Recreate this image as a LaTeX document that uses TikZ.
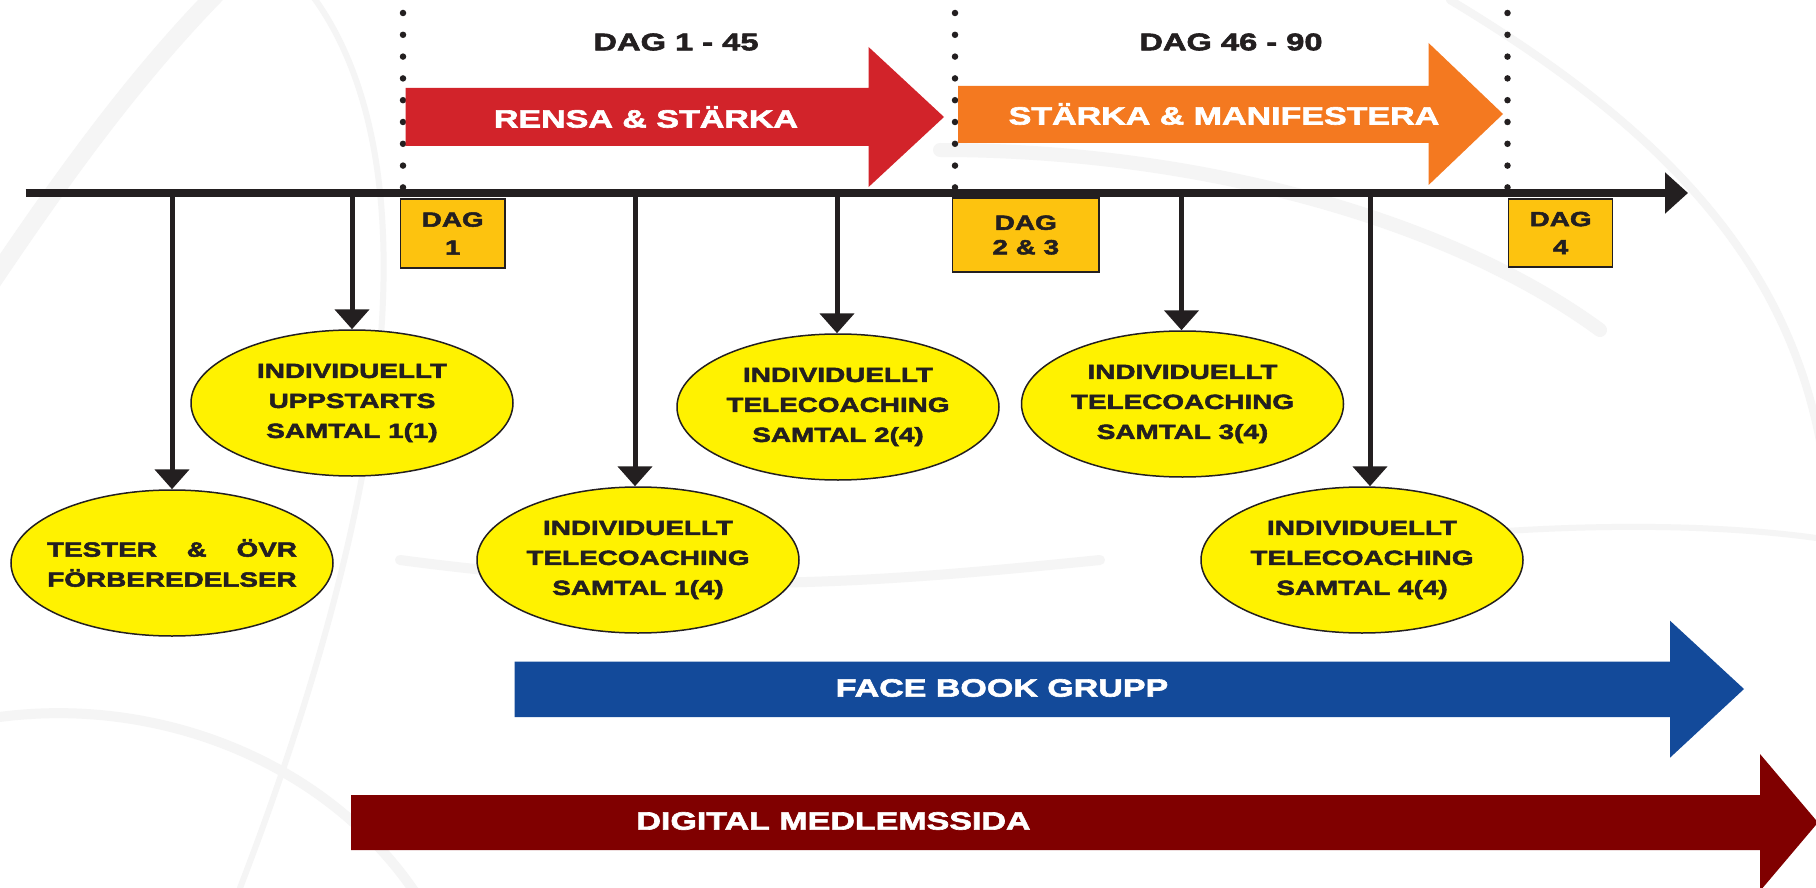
\documentclass[tikz,border=0pt]{standalone}
\usepackage{fontspec}
\newfontfamily\hv{Liberation Sans}[FakeStretch=1.36,FakeBold=2.5]
\usetikzlibrary{arrows.meta,shapes.geometric}
\definecolor{ink}{HTML}{231F20}
\definecolor{gold}{HTML}{FDC30F}
\definecolor{ellyellow}{HTML}{FFF200}
\definecolor{redarr}{HTML}{D2232A}
\definecolor{orangearr}{HTML}{F47920}
\definecolor{bluearr}{HTML}{134A9A}
\definecolor{darkred}{HTML}{800000}
\definecolor{swoosh}{HTML}{F5F5F5}
\begin{document}
\begin{tikzpicture}[x=1pt,y=-1pt,
  toplbl/.style={font=\hv\bfseries\fontsize{24}{28}\selectfont, text=ink, inner sep=0pt},
  arrlbl/.style={font=\hv\bfseries\fontsize{25}{28}\selectfont, text=white, inner sep=0pt},
  dagbox/.style={draw=ink, line width=1.5pt, fill=gold, inner sep=0pt, align=center,
    font=\hv\bfseries\fontsize{20.5}{28}\selectfont, text=ink},
  ell/.style={ellipse, draw=ink, line width=1.5pt, fill=ellyellow, minimum width=322pt,
    minimum height=146pt, inner sep=0pt, align=center,
    font=\hv\bfseries\fontsize{20.5}{30}\selectfont, text=ink},
  conn/.style={line width=5pt, draw=ink, -{Triangle[width=34pt,length=20pt]}},
  dotline/.style={line width=6.5pt, draw=ink, line cap=round, dash pattern=on 0pt off 21.8pt},
  swoo/.style={draw=swoosh, line cap=round}
]
\useasboundingbox (0,0) rectangle (1816,888);
\fill[white] (0,0) rectangle (1816,888);
% faint background swooshes
\begin{scope}
\draw[swoo, line width=18pt] (-20,300) .. controls (80,150) and (150,60) .. (230,-20);
\draw[swoo, line width=6pt] (300,-20) .. controls (420,120) and (420,420) .. (240,888);
\draw[swoo, line width=10pt] (-20,720) .. controls (150,690) and (330,760) .. (420,900);
\draw[swoo, line width=14pt] (940,150) .. controls (1200,150) and (1450,220) .. (1600,330);
\draw[swoo, line width=8pt] (1450,0) .. controls (1700,150) and (1816,300) .. (1830,520);
\draw[swoo, line width=6pt] (1250,560) .. controls (1500,520) and (1700,520) .. (1830,540);
\draw[swoo, line width=10pt] (400,560) .. controls (700,600) and (900,580) .. (1100,560);
\end{scope}
% dotted separators
\coordinate (d1a) at (403,13);  \coordinate (d1b) at (403,188);
\coordinate (d2a) at (955,13);  \coordinate (d2b) at (955,188);
\coordinate (d3a) at (1507.5,13); \coordinate (d3b) at (1507.5,188);
\draw[dotline] (d1a) -- (d1b);
\draw[dotline] (d2a) -- (d2b);
\draw[dotline] (d3a) -- (d3b);
% top labels
\node[toplbl] (p1) at (676,42) {DAG 1 - 45};
\node[toplbl] (p2) at (1231,42) {DAG 46 - 90};
% phase arrows
\fill[redarr] (405.6,88) -- (868.6,88) -- (868.6,47) -- (944,117) -- (868.6,187) -- (868.6,146) -- (405.6,146) -- cycle;
\node[arrlbl] (rensa) at (646,117) {RENSA \& STÄRKA};
\fill[orangearr] (958,86) -- (1428.6,86) -- (1428.6,43) -- (1503,114) -- (1428.6,185) -- (1428.6,143) -- (958,143) -- cycle;
\node[arrlbl] (starka) at (1224,114) {STÄRKA \& MANIFESTERA};
% timeline
\coordinate (ax0) at (25.5,193);
\coordinate (ax1) at (1688,193);
\draw[line width=8pt, draw=ink, -{Triangle[width=40pt,length=23pt]}] (ax0) -- (ax1);
% day boxes
\node[dagbox, minimum width=104.5pt, minimum height=69pt] (dag1) at (452.75,233.5) {DAG\\1};
\node[dagbox, minimum width=146.5pt, minimum height=74pt, font=\hv\bfseries\fontsize{20.5}{24.5}\selectfont] (dag23) at (1025.8,235) {DAG\\2 \& 3};
\node[dagbox, minimum width=104pt, minimum height=68pt] (dag4) at (1560.6,233) {DAG\\4};
% ellipses
\node[ell] (e1) at (172,563) {\makebox[0pt]{\hbox to 250pt{TESTER\hfill\&\hfill ÖVR}}\\\makebox[0pt]{FÖRBEREDELSER}};
\node[ell] (e2) at (352,403) {INDIVIDUELLT\\UPPSTARTS\\SAMTAL 1(1)};
\node[ell] (e3) at (638,560) {INDIVIDUELLT\\TELECOACHING\\SAMTAL 1(4)};
\node[ell] (e4) at (838,407) {INDIVIDUELLT\\TELECOACHING\\SAMTAL 2(4)};
\node[ell] (e5) at (1182.5,404) {INDIVIDUELLT\\TELECOACHING\\SAMTAL 3(4)};
\node[ell] (e6) at (1362,560) {INDIVIDUELLT\\TELECOACHING\\SAMTAL 4(4)};
% connectors from timeline
\coordinate (t1) at (172,193);
\coordinate (t2) at (352,193);
\coordinate (t3) at (635,193);
\coordinate (t4) at (837,193);
\coordinate (t5) at (1181.5,193);
\coordinate (t6) at (1370,193);
\draw[conn] (t1) -- (t1 |- e1.north);
\draw[conn] (t2) -- (t2 |- e2.north);
\draw[conn] (t3) -- (t3 |- e3.north);
\draw[conn] (t4) -- (t4 |- e4.north);
\draw[conn] (t5) -- (t5 |- e5.north);
\draw[conn] (t6) -- (t6 |- e6.north);
% long arrows
\fill[bluearr] (514.7,661.7) -- (1670,661.7) -- (1670,620.7) -- (1744,689) -- (1670,757.7) -- (1670,717) -- (514.7,717) -- cycle;
\node[arrlbl] (fb) at (1002,688) {FACE BOOK GRUPP};
\fill[darkred] (351,795) -- (1760,795) -- (1760,754) -- (1818,822.5) -- (1760,891) -- (1760,850) -- (351,850) -- cycle;
\node[arrlbl] (dm) at (833.5,821) {DIGITAL MEDLEMSSIDA};
\end{tikzpicture}
\end{document}
